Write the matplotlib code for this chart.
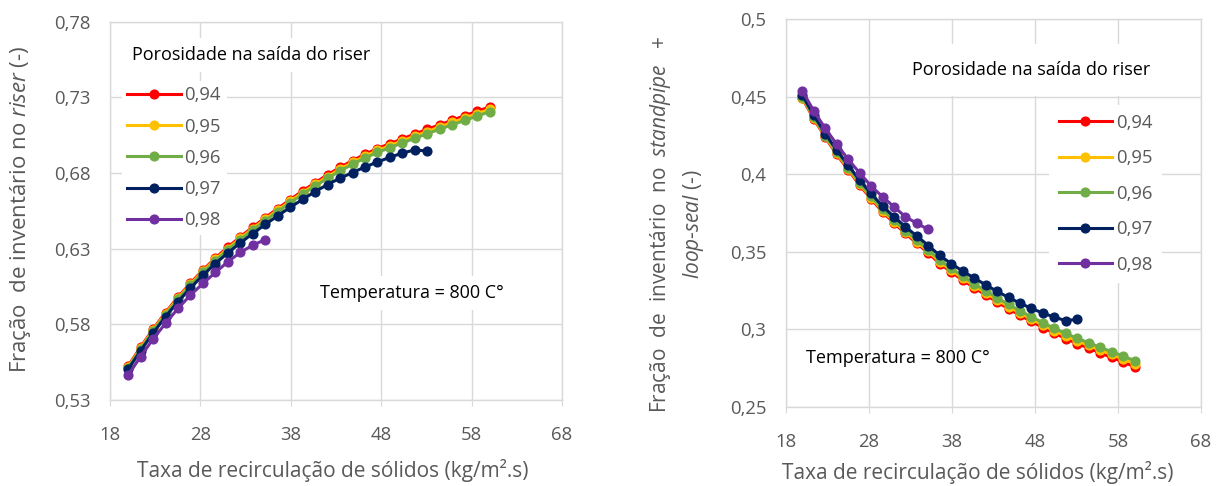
import matplotlib
matplotlib.use("Agg")
import matplotlib.pyplot as plt

plt.rcParams['font.family'] = ['Open Sans', 'DejaVu Sans']
plt.rcParams['mathtext.fontset'] = 'custom'
plt.rcParams['mathtext.rm'] = 'Open Sans'
plt.rcParams['mathtext.it'] = 'Open Sans:italic'

# taxa de recirculação de sólidos (kg/m2.s)
gs = [20.00, 21.38, 22.76, 24.14, 25.52, 26.90, 28.28, 29.66, 31.03, 32.41,
      33.79, 35.17, 36.55, 37.93, 39.31, 40.69, 42.07, 43.45, 44.83, 46.21,
      47.59, 48.97, 50.34, 51.72, 53.10, 54.48, 55.86, 57.24, 58.62, 60.00]

porosidades = ['0,94', '0,95', '0,96', '0,97', '0,98']
cores = ['#FF0000', '#FFC000', '#70AD47', '#002060', '#7030A0']

# fração de inventário no riser
riser_094 = [0.5524, 0.5649, 0.5768, 0.5878, 0.5980, 0.6072, 0.6159, 0.6238, 0.6310, 0.6378,
             0.6442, 0.6505, 0.6565, 0.6624, 0.6682, 0.6736, 0.6788, 0.6838, 0.6882, 0.6924,
             0.6962, 0.6994, 0.7026, 0.7058, 0.7089, 0.7119, 0.7149, 0.7179, 0.7208, 0.7237]
riser_095 = [0.5518, 0.5642, 0.5762, 0.5871, 0.5973, 0.6065, 0.6151, 0.6230, 0.6301, 0.6369,
             0.6433, 0.6495, 0.6555, 0.6614, 0.6671, 0.6725, 0.6777, 0.6826, 0.6870, 0.6912,
             0.6949, 0.6981, 0.7013, 0.7044, 0.7074, 0.7105, 0.7134, 0.7164, 0.7193, 0.7221]
riser_096 = [0.5512, 0.5636, 0.5755, 0.5864, 0.5965, 0.6057, 0.6143, 0.6221, 0.6292, 0.6360,
             0.6423, 0.6485, 0.6545, 0.6603, 0.6660, 0.6714, 0.6765, 0.6814, 0.6858, 0.6899,
             0.6936, 0.6968, 0.6999, 0.7030, 0.7060, 0.7090, 0.7119, 0.7148, 0.7177, 0.7205]
riser_097 = [0.5502, 0.5625, 0.5742, 0.5850, 0.5950, 0.6040, 0.6125, 0.6202, 0.6272, 0.6338,
             0.6400, 0.6460, 0.6517, 0.6573, 0.6626, 0.6677, 0.6724, 0.6766, 0.6803, 0.6840,
             0.6873, 0.6904, 0.6932, 0.6953, 0.6945]
riser_098 = [0.5465, 0.5586, 0.5703, 0.5806, 0.5905, 0.5993, 0.6070, 0.6143, 0.6213, 0.6275,
             0.6323, 0.6360]

# fração de inventário no standpipe + loop-seal
loop_094 = [0.4490, 0.4358, 0.4238, 0.4128, 0.4029, 0.3930, 0.3841, 0.3757, 0.3686, 0.3618,
            0.3555, 0.3491, 0.3424, 0.3369, 0.3317, 0.3268, 0.3221, 0.3176, 0.3132, 0.3090,
            0.3050, 0.3011, 0.2974, 0.2940, 0.2907, 0.2878, 0.2847, 0.2818, 0.2789, 0.2758]
loop_095 = [0.4495, 0.4364, 0.4244, 0.4135, 0.4036, 0.3938, 0.3849, 0.3766, 0.3695, 0.3628,
            0.3565, 0.3502, 0.3435, 0.3381, 0.3329, 0.3281, 0.3234, 0.3190, 0.3146, 0.3105,
            0.3065, 0.3027, 0.2990, 0.2957, 0.2924, 0.2896, 0.2865, 0.2837, 0.2808, 0.2778]
loop_096 = [0.4500, 0.4369, 0.4250, 0.4141, 0.4043, 0.3945, 0.3857, 0.3774, 0.3704, 0.3637,
            0.3575, 0.3512, 0.3446, 0.3392, 0.3341, 0.3293, 0.3247, 0.3203, 0.3160, 0.3119,
            0.3080, 0.3042, 0.3006, 0.2973, 0.2941, 0.2913, 0.2883, 0.2855, 0.2827, 0.2797]
loop_097 = [0.4511, 0.4381, 0.4263, 0.4156, 0.4059, 0.3962, 0.3876, 0.3794, 0.3726, 0.3661,
            0.3601, 0.3540, 0.3476, 0.3423, 0.3375, 0.3330, 0.3287, 0.3244, 0.3205, 0.3168,
            0.3134, 0.3104, 0.3078, 0.3055, 0.3064]
loop_098 = [0.4538, 0.4409, 0.4296, 0.4194, 0.4096, 0.4009, 0.3924, 0.3855, 0.3790, 0.3726,
            0.3683, 0.3644]

x_ticks = [18, 28, 38, 48, 58, 68]
y_ticks_riser = [0.53, 0.58, 0.63, 0.68, 0.73, 0.78]
y_labels_riser = ['0,53', '0,58', '0,63', '0,68', '0,73', '0,78']
y_ticks_loop = [0.25, 0.30, 0.35, 0.40, 0.45, 0.50]
y_labels_loop = ['0,25', '0,3', '0,35', '0,4', '0,45', '0,5']

cinza = '#595959'
grade = '#D9D9D9'

fig = plt.figure(figsize=(12.19, 4.86), dpi=100)
ax1 = fig.add_axes([110 / 1219, 86 / 486, 452 / 1219, 378.3 / 486])
ax2 = fig.add_axes([785.7 / 1219, 79.3 / 486, 415.3 / 1219, 387.4 / 486])


def style_axis(ax, yticks, ylabels):
    ax.set_xlim(18, 68)
    ax.set_ylim(yticks[0], yticks[-1])
    ax.set_xticks(x_ticks)
    ax.set_xticklabels([str(t) for t in x_ticks])
    ax.set_yticks(yticks)
    ax.set_yticklabels(ylabels)
    ax.grid(True, color=grade, linewidth=1.0)
    ax.set_axisbelow(True)
    for s in ax.spines.values():
        s.set_color(grade)
        s.set_linewidth(1.0)
    ax.tick_params(axis='x', length=4, color=grade, labelcolor=cinza, labelsize=13.3, pad=15)
    ax.tick_params(axis='y', length=0, labelcolor=cinza, labelsize=13.3, pad=14)


def draw(ax, series):
    handles = []
    for y, c, lab in zip(series, cores, porosidades):
        h, = ax.plot(gs[:len(y)], y, color=c, linewidth=2.2, marker='o',
                     markersize=6.3, label=lab, zorder=3)
        handles.append(h)
    return handles


# ---- gráfico da esquerda: riser
style_axis(ax1, y_ticks_riser, y_labels_riser)
hs = draw(ax1, [riser_094, riser_095, riser_096, riser_097, riser_098])
leg = ax1.legend(handles=hs, loc='upper left', bbox_to_anchor=(0.026, 0.844),
                 frameon=True, facecolor='white', edgecolor='none', framealpha=1,
                 fontsize=13.3, labelcolor=cinza, handlelength=2.9, handletextpad=0.2,
                 labelspacing=0.72, borderpad=0.3, borderaxespad=0)
leg.set_zorder(5)
ax1.text(0.048, 0.912, 'Porosidade na saída do riser', transform=ax1.transAxes,
         fontsize=13, va='center', ha='left', zorder=6,
         bbox=dict(facecolor='white', edgecolor='none', pad=6))
ax1.text(0.465, 0.283, 'Temperatura = 800 C°', transform=ax1.transAxes,
         fontsize=13, va='center', ha='left', zorder=6,
         bbox=dict(facecolor='white', edgecolor='none', pad=6))

# ---- gráfico da direita: standpipe + loop-seal
style_axis(ax2, y_ticks_loop, y_labels_loop)
hs = draw(ax2, [loop_094, loop_095, loop_096, loop_097, loop_098])
leg = ax2.legend(handles=hs, loc='upper left', bbox_to_anchor=(0.635, 0.78),
                 frameon=True, facecolor='white', edgecolor='none', framealpha=1,
                 fontsize=13.3, labelcolor=cinza, handlelength=2.9, handletextpad=0.2,
                 labelspacing=0.95, borderpad=0.5, borderaxespad=0)
leg.set_zorder(5)
ax2.text(0.303, 0.869, 'Porosidade na saída do riser', transform=ax2.transAxes,
         fontsize=13, va='center', ha='left', zorder=6,
         bbox=dict(facecolor='white', edgecolor='none', pad=12))
ax2.text(0.05, 0.126, 'Temperatura = 800 C°', transform=ax2.transAxes,
         fontsize=13, va='center', ha='left', zorder=6)

# rótulos dos eixos
fig.text(333 / 1219, 1 - 470 / 486, 'Taxa de recirculação de sólidos (kg/m².s)',
         ha='center', va='center', fontsize=15, color=cinza)
fig.text(978 / 1219, 1 - 472 / 486, 'Taxa de recirculação de sólidos (kg/m².s)',
         ha='center', va='center', fontsize=15, color=cinza)
fig.text(21 / 1219, 1 - 209 / 486, r'Fração  de inventário no $\mathit{riser}$ (-)',
         rotation=90, ha='center', va='center', fontsize=16, color=cinza)
fig.text(677 / 1219, 1 - 224 / 486,
         'Fração  de  inventário  no  $\\mathit{standpipe}$   +\n$\\mathit{loop}$-$\\mathit{seal}$ (-)',
         rotation=90, ha='center', va='center', fontsize=15, color=cinza,
         multialignment='center', linespacing=1.45)

fig.savefig('out.png', dpi=100)
